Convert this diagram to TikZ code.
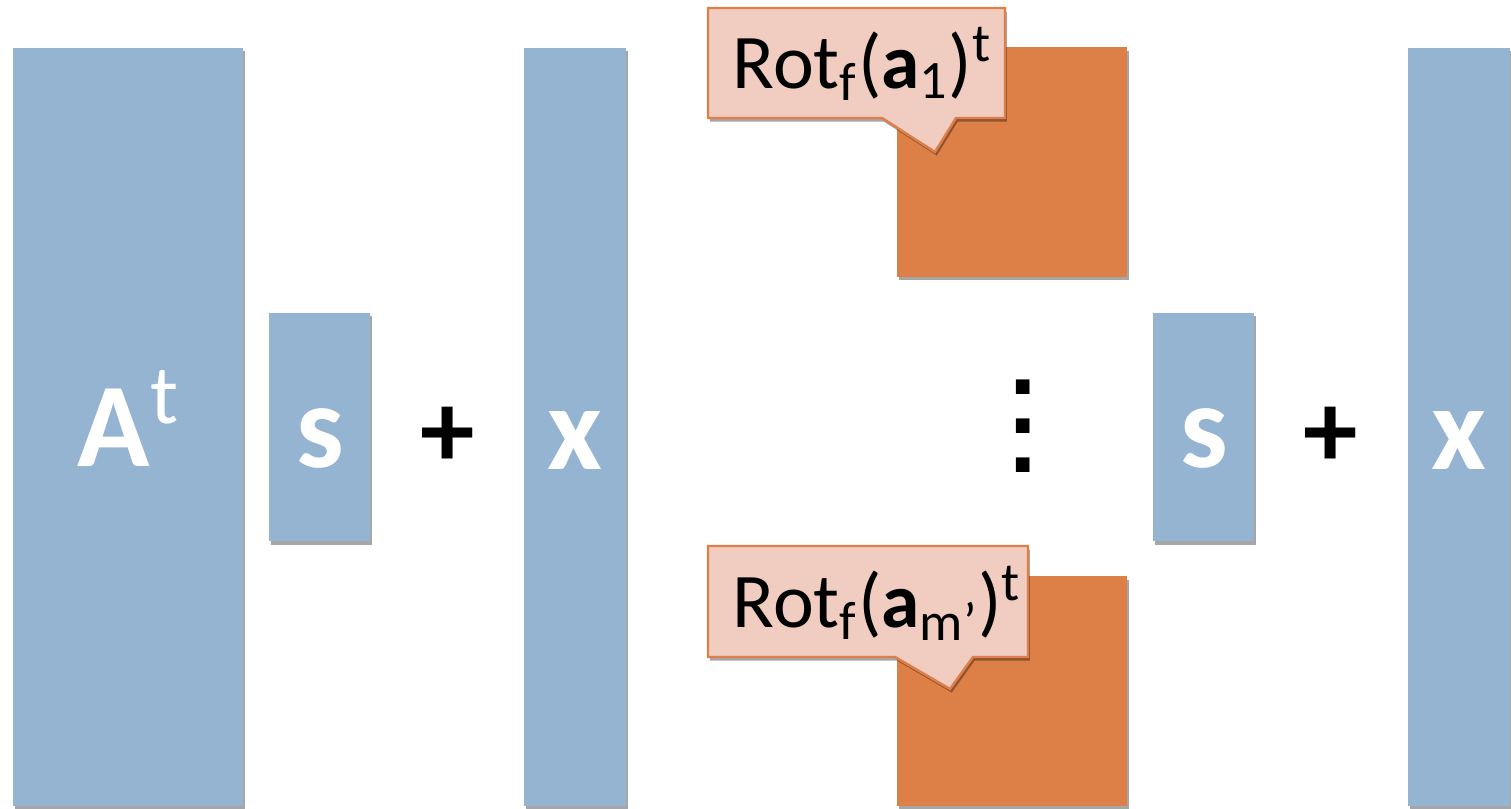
\documentclass[tikz,border=0pt]{standalone}
\usepackage{fontspec}
\setmainfont{Carlito}
\newfontfamily\dejavu{DejaVu Sans}
\usetikzlibrary{shadows}
\definecolor{barblue}{RGB}{148,180,210}
\definecolor{barorange}{RGB}{221,128,71}
\definecolor{callfill}{RGB}{240,205,192}
\definecolor{callborder}{RGB}{222,126,72}
\begin{document}
\begin{tikzpicture}[x=0.01cm,y=-0.01cm,
  shade/.style={drop shadow={shadow xshift=0.5pt,shadow yshift=-1pt,opacity=0.35,fill=black}},
  bar/.style={fill=barblue,draw=none,inner sep=0pt,shade},
  sq/.style={fill=barorange,draw=none,inner sep=0pt,shade,minimum width=2.30cm,minimum height=2.29cm},
  callout/.style={fill=callfill,draw=callborder,line width=0.7pt,line join=miter,shade},
  big/.style={text=white,font=\fontsize{34pt}{40pt}\selectfont\bfseries,inner sep=0pt},
  op/.style={font=\fontsize{31pt}{36pt}\selectfont\bfseries,inner sep=0pt},
  dot/.style={font=\dejavu\fontsize{22pt}{24pt}\selectfont\bfseries,inner sep=0pt,text height=0.13cm,text depth=0pt},
  calltext/.style={font=\fontsize{22pt}{26pt}\selectfont,inner sep=0pt,anchor=base west}]
\useasboundingbox (0,0) rectangle (1511,809);
% bars
\node[bar,minimum width=2.30cm,minimum height=7.58cm] (At) at (128,427) {};
\node[bar,minimum width=1.01cm,minimum height=2.28cm] (s1) at (319.5,427) {};
\node[bar,minimum width=1.02cm,minimum height=7.58cm] (x1) at (575,427) {};
\node[bar,minimum width=1.01cm,minimum height=2.28cm] (s2) at (1203.5,427) {};
\node[bar,minimum width=1.02cm,minimum height=7.58cm] (x2) at (1459,427) {};
% orange squares
\node[sq] (r1) at (1012,162) {};
\node[sq] (r2) at (1012,691) {};
% labels
\node[big,anchor=base west] (tA) at (77,466) {A{\mdseries\raisebox{3pt}{\textsuperscript{t}}}};
\node[big,anchor=base] (ts1) at (320,467) {s};
\node[big,anchor=base] (tx1) at (575,469) {x};
\node[big,anchor=base] (ts2) at (1204,467) {s};
\node[big,anchor=base] (tx2) at (1459,469) {x};
\node[op] (p1) at (448,437) {+};
\node[op] (p2) at (1331,437) {+};
\node[dot] (d1) at (1023,388) {.};
\node[dot] (d2) at (1023,427) {.};
\node[dot] (d3) at (1023,466) {.};
% callouts
\path[callout] (708,8) -- (1005,8) -- (1005,118) -- (956,118) -- (935,152) -- (882,118) -- (708,118) -- cycle;
\node[calltext] (c1) at (732,88) {Rot\textsubscript{f}(\textbf{a}\textsubscript{1})\textsuperscript{t}};
\path[callout] (708,546) -- (1028,546) -- (1028,657) -- (973,657) -- (950,689) -- (895,657) -- (708,657) -- cycle;
\node[calltext] (c2) at (732,627) {Rot\textsubscript{f}(\textbf{a}\textsubscript{m’})\textsuperscript{t}};
\end{tikzpicture}
\end{document}
